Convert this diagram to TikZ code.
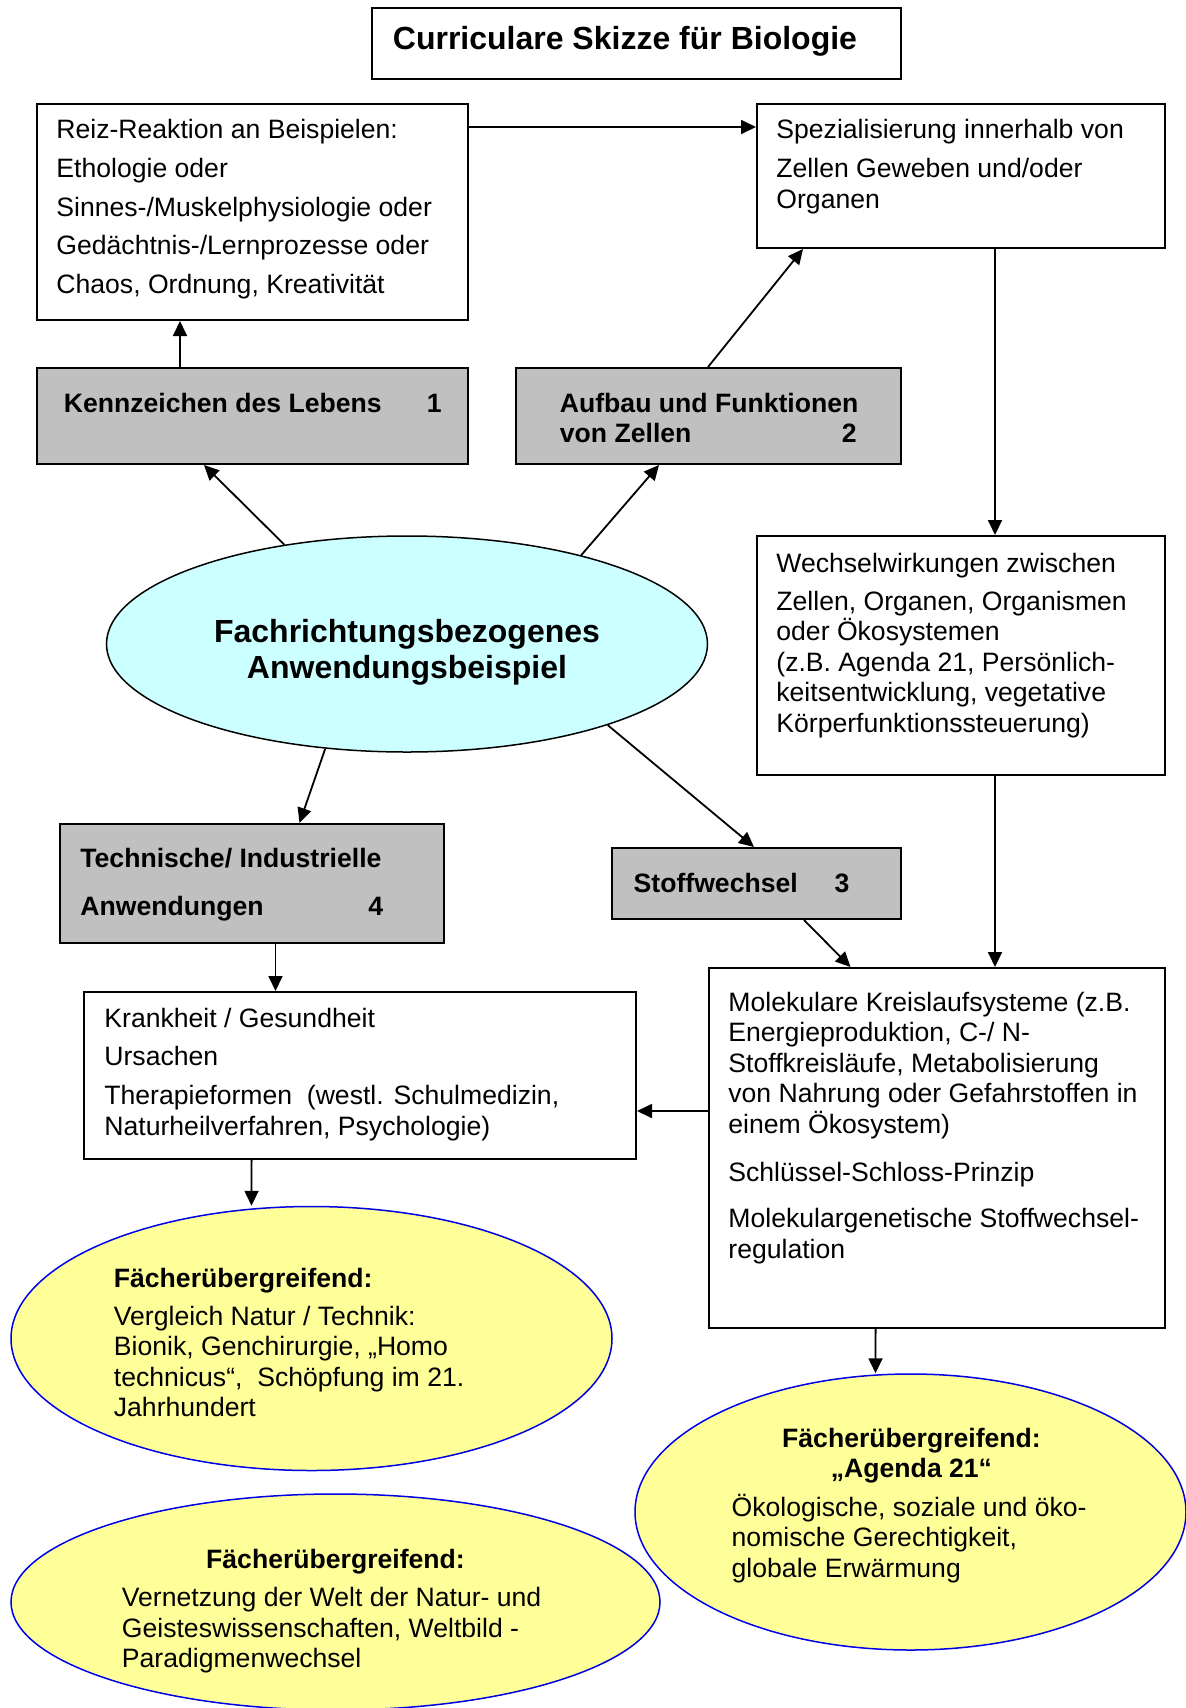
\documentclass[tikz,border=0pt]{standalone}
\usepackage{fontspec}
\setmainfont{Liberation Sans}
\usetikzlibrary{arrows.meta,shapes.geometric}

\definecolor{boxgray}{RGB}{192,192,192}
\definecolor{fachcyan}{RGB}{204,255,255}
\definecolor{paleyellow}{RGB}{255,255,153}
\definecolor{rimblue}{RGB}{0,0,230}

\tikzset{
  plainbox/.style={draw, line width=1pt, anchor=north west, inner sep=0pt},
  graybox/.style={plainbox, fill=boxgray},
  bubble/.style={ellipse, draw=rimblue, line width=0.75pt, fill=paleyellow, inner sep=0pt},
  txt/.style={anchor=north west, inner sep=0pt, align=left, font=\fontsize{13.3}{15.25}\selectfont},
  btxt/.style={txt, font=\fontsize{13.3}{15.25}\selectfont\bfseries},
}

\begin{document}
\begin{tikzpicture}[x=0.5pt, y=-0.5pt, line width=0.9pt, >={Triangle[length=7.5pt,width=7pt]}]
\path[use as bounding box, fill=white] (0,0) rectangle (1186,1708);

% Boxes
\node[plainbox, minimum width=264.5pt, minimum height=35.5pt] (title) at (371,7) {};
\node[plainbox, minimum width=215.5pt, minimum height=108pt] (reiz) at (36,103) {};
\node[plainbox, minimum width=204pt, minimum height=72pt] (spez) at (756,103) {};
\node[graybox, minimum width=215.5pt, minimum height=48pt] (kenn) at (36,367) {};
\node[graybox, minimum width=192.5pt, minimum height=48pt] (aufbau) at (515,367) {};
\node[plainbox, minimum width=204pt, minimum height=119.5pt] (wechsel) at (756,535) {};
\node[graybox, minimum width=192pt, minimum height=59.5pt] (tech) at (59,823) {};
\node[graybox, minimum width=144.5pt, minimum height=35.5pt] (stoff) at (611,847) {};
\node[plainbox, minimum width=276pt, minimum height=83.5pt] (krank) at (83,991) {};
\node[plainbox, minimum width=228pt, minimum height=180pt] (molek) at (708,967) {};

% Ellipses
\node[ellipse, draw, fill=fachcyan, line width=0.75pt, minimum width=300.5pt, minimum height=108pt] (fach) at (407,644) {};
\node[bubble, minimum width=300.5pt, minimum height=132pt] (vergl) at (311.5,1338.5) {};
\node[bubble, minimum width=275.5pt, minimum height=138pt] (agenda) at (910.5,1512) {};
\node[bubble, minimum width=324.5pt, minimum height=108pt] (vernetz) at (335.5,1602) {};

% Arrows
\draw[->] ([shift={(0,24)}]reiz.north east) -- ([shift={(0,24)}]spez.north west);
\draw[->] ([shift={(144,0)}]kenn.north west) -- ([shift={(144,0)}]reiz.south west);
\draw[->] ([shift={(193,0)}]aufbau.north west) -- ([shift={(47,0)}]spez.south west);
\draw[->] (fach.141) -- ([shift={(168,0)}]kenn.south west);
\draw[->] (fach.27) -- ([shift={(144,0)}]aufbau.south west);
\draw[->] ([shift={(239,0)}]spez.south west) -- ([shift={(239,0)}]wechsel.north west);
\draw[->] ([shift={(239,0)}]wechsel.south west) -- ([shift={(287,0)}]molek.north west);
\draw[->] (fach.232) -- ([shift={(240.5,0)}]tech.north west);
\draw[->] (fach.338) -- ([shift={(143,0)}]stoff.north west);
\draw[->] ([shift={(193,0)}]stoff.south west) -- ([shift={(142.5,0)}]molek.north west);
\draw[->] ([shift={(216.5,0)}]tech.south west) -- ([shift={(192.5,0)}]krank.north west);
\draw[->] ([shift={(0,144)}]molek.north west) -- ([shift={(0,120)}]krank.north east);
\draw[->] ([shift={(168.6,0)}]krank.south west) -- ([shift={(-60,0)}]vergl.north);
\draw[->] ([shift={(167.6,0)}]molek.south west) -- ([shift={(-35,0)}]agenda.north);

% Texts
\node[btxt, font=\fontsize{16}{18}\selectfont\bfseries] (titletxt) at (392,25) {Curriculare Skizze für Biologie};
\node[btxt, anchor=center, align=center, font=\fontsize{16}{18}\selectfont\bfseries] (fachtxt) at (407,652) {Fachrichtungsbezogenes\\Anwendungsbeispiel};
\node[txt, font=\fontsize{13.3}{19.35}\selectfont] (reiztxt) at (55.5,118.5) {Reiz-Reaktion an Beispielen:\\Ethologie oder\\Sinnes-/Muskelphysiologie oder\\Gedächtnis-/Lernprozesse oder\\Chaos, Ordnung, Kreativität};
\node[txt] (speztxt) at (775.5,118.5) {Spezialisierung innerhalb von\\[4.3pt]Zellen Geweben und/oder\\Organen};
\node[btxt] (kenntxt) at (63,392) {\makebox[181.5pt][l]{Kennzeichen des Lebens}1};
\node[btxt] (aufbautxt) at (559,392) {Aufbau und Funktionen\\\makebox[141pt][l]{von Zellen}2};
\node[txt] (wechseltxt) at (775.5,552) {Wechselwirkungen zwischen\\[3.9pt]Zellen, Organen, Organismen\\oder Ökosystemen\\(z.B. Agenda 21, Persönlich-\\keitsentwicklung, vegetative\\Körperfunktionssteuerung)};
\node[btxt] (techtxt) at (79.5,847) {Technische/ Industrielle\\[8.7pt]\makebox[144pt][l]{Anwendungen}4};
\node[btxt] (stofftxt) at (632.8,872) {\makebox[100.5pt][l]{Stoffwechsel}3};
\node[txt] (kranktxt) at (103.5,1007) {Krankheit / Gesundheit\\[3.9pt]Ursachen\\[4.3pt]Therapieformen~ (westl. Schulmedizin,\\Naturheilverfahren, Psychologie)};
\node[txt] (molektxt) at (727.5,991) {Molekulare Kreislaufsysteme (z.B.\\Energieproduktion, C-/ N-\\Stoffkreisläufe, Metabolisierung\\von Nahrung oder Gefahrstoffen in\\einem Ökosystem)\\[8.7pt]Schlüssel-Schloss-Prinzip\\[8.2pt]Molekulargenetische Stoffwechsel-\\regulation};
\node[txt] (vergltxt) at (113,1267) {\textbf{Fächerübergreifend:}\\[3.8pt]Vergleich Natur / Technik:\\Bionik, Genchirurgie, „Homo\\technicus“,~ Schöpfung im 21.\\Jahrhundert};
\node[btxt, anchor=north, align=center] (agendahead) at (911.5,1427) {Fächerübergreifend:\\„Agenda 21“};
\node[txt] (agendatxt) at (730.8,1493) {Ökologische, soziale und öko-\\nomische Gerechtigkeit,\\globale Erwärmung};
\node[btxt, anchor=north] (vernetzhead) at (335.5,1548) {Fächerübergreifend:};
\node[txt] (vernetztxt) at (121,1586.6) {Vernetzung der Welt der Natur- und\\Geisteswissenschaften, Weltbild -\\Paradigmenwechsel};
\end{tikzpicture}
\end{document}
